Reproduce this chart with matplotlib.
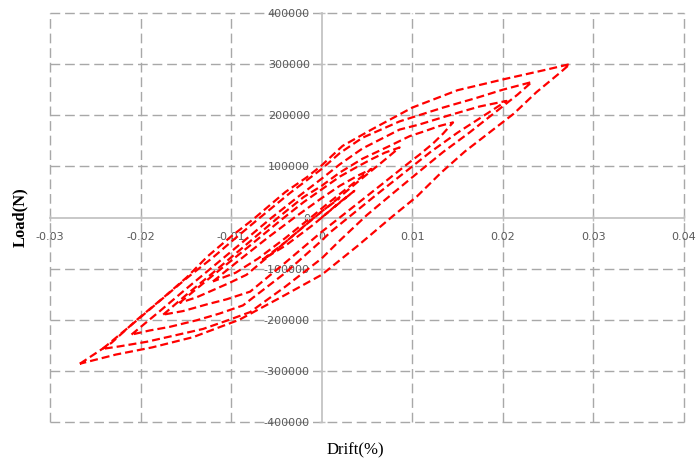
import matplotlib
matplotlib.use('Agg')
import matplotlib.pyplot as plt
from matplotlib.ticker import FuncFormatter

# Hysteresis cycles: drift (%) and load (N), one closed loop each
drift_c1 = [-0.0267, -0.0232, -0.0204, -0.0175, -0.0149, -0.0126, -0.0100, -0.0076, -0.0040, -0.0017, 0.0,
            0.0023, 0.0055, 0.0100, 0.0150, 0.0200, 0.0250, 0.0274,
            0.0263, 0.0237, 0.0212, 0.0185, 0.0158, 0.0132, 0.0105, 0.0078, 0.0040, 0.0,
            -0.0046, -0.0091, -0.0142, -0.0187, -0.0227, -0.0267]
load_c1 = [-286000, -245000, -200000, -157000, -117000, -76000, -37000, -4000, 50000, 78000, 102000,
           140000, 172000, 215000, 249000, 270000, 290000, 300000,
           283000, 245000, 203000, 166000, 129000, 88000, 41000, 2000, -55000, -112000,
           -157000, -200000, -234000, -254000, -268000, -286000]

drift_c2 = [-0.0242, -0.0210, -0.0180, -0.0150, -0.0120, -0.0095, -0.0068, -0.0035, 0.0,
            0.0020, 0.0045, 0.0086, 0.0134, 0.0171, 0.0200, 0.0232,
            0.0216, 0.0191, 0.0163, 0.0134, 0.0105, 0.0075, 0.0050, 0.0020, 0.0,
            -0.0040, -0.0079, -0.0102, -0.0131, -0.0168, -0.0193, -0.0223, -0.0242]
load_c2 = [-257000, -210000, -165000, -120000, -78000, -40000, 0, 48000, 95000,
           126000, 156000, 188000, 215000, 234000, 250000, 265000,
           240000, 205000, 166000, 128000, 86000, 42000, 5000, -45000, -80000,
           -135000, -185000, -200000, -218000, -233000, -243000, -252000, -257000]

drift_c3 = [-0.0210, -0.0180, -0.0150, -0.0120, -0.0090, -0.0055, -0.0025, 0.0,
            0.0020, 0.0045, 0.0086, 0.0108, 0.0141, 0.0174, 0.0204,
            0.0178, 0.0150, 0.0120, 0.0090, 0.0060, 0.0035, 0.0010, 0.0,
            -0.0040, -0.0087, -0.0113, -0.0138, -0.0168, -0.0190, -0.0210]
load_c3 = [-229000, -185000, -140000, -96000, -52000, 0, 42000, 76000,
           104000, 135000, 172000, 182000, 200000, 217000, 228000,
           198000, 166000, 128000, 86000, 44000, 8000, -28000, -45000,
           -108000, -172000, -188000, -201000, -214000, -221000, -229000]

drift_c4 = [-0.0175, -0.0150, -0.0120, -0.0090, -0.0048, -0.0020, 0.0,
            0.0020, 0.0045, 0.0075, 0.0097, 0.0114, 0.0130, 0.0145,
            0.0134, 0.0123, 0.0108, 0.0097, 0.0070, 0.0040, 0.0020, 0.0,
            -0.0040, -0.0079, -0.0105, -0.0127, -0.0153, -0.0175]
load_c4 = [-190000, -152000, -108000, -63000, 0, 40000, 62000,
           88000, 115000, 140000, 159000, 169000, 179000, 186000,
           164000, 145000, 123000, 108000, 70000, 28000, 0, -28000,
           -88000, -145000, -160000, -170000, -183000, -190000]

drift_c5 = [-0.0157, -0.0120, -0.0080, -0.0045, -0.0020, 0.0,
            0.0020, 0.0040, 0.0055, 0.0070, 0.0086,
            0.0065, 0.0040, 0.0015, -0.0008,
            -0.0040, -0.0083, -0.0102, -0.0120, -0.0138, -0.0157]
load_c5 = [-167000, -113000, -56000, -5000, 30000, 55000,
           80000, 100000, 114000, 127000, 137000,
           106000, 70000, 33000, 0,
           -48000, -112000, -128000, -142000, -156000, -167000]

drift_c6 = [-0.0120, -0.0090, -0.0060, -0.0030, 0.0, 0.0020, 0.0040, 0.0055,
            0.0030, 0.0005, -0.0012, -0.0040, -0.0070, -0.0095, -0.0120]
load_c6 = [-125000, -82000, -40000, 0, 38000, 62000, 82000, 95000,
           60000, 25000, 0, -40000, -80000, -108000, -125000]

drift_c7 = [0.0, 0.0018, 0.0036, 0.0015, -0.0010, -0.0040, -0.0065,
            -0.0040, -0.0015, 0.0, 0.0020]
load_c7 = [0, 27000, 52000, 22000, -15000, -55000, -82000,
           -48000, -10000, 12000, 38000]

x_ticks = [-0.03, -0.02, -0.01, 0, 0.01, 0.02, 0.03, 0.04]
y_ticks = [-400000, -300000, -200000, -100000, 0, 100000, 200000, 300000, 400000]

cycles = [(drift_c7, load_c7), (drift_c6, load_c6), (drift_c5, load_c5), (drift_c4, load_c4),
          (drift_c3, load_c3), (drift_c2, load_c2), (drift_c1, load_c1)]

fig = plt.figure(figsize=(6.99, 4.59), dpi=100)
ax = fig.add_axes([50 / 699, 1 - 422 / 459, 634 / 699, 409 / 459])

for dx, ld in cycles:
    ax.plot(dx, ld, color='#FF0000', lw=1.6, linestyle=(0, (3.6, 1.8)),
            dash_capstyle='butt', zorder=3)

ax.set_xlim(-0.03, 0.04)
ax.set_ylim(-400000, 400000)
ax.set_xticks(x_ticks)
ax.set_yticks(y_ticks)

# dashed grid, including the outer frame
grid_kw = dict(color='#A8A8A8', lw=1.0, linestyle=(0, (7, 3.5)), zorder=1)
for v in x_ticks:
    if v != 0:
        ln = ax.axvline(v, **grid_kw)
        ln.set_clip_on(False)
for v in y_ticks:
    if v != 0:
        ln = ax.axhline(v, **grid_kw)
        ln.set_clip_on(False)

# axes crossing at zero
for s in ['top', 'right']:
    ax.spines[s].set_visible(False)
ax.spines['left'].set_position('zero')
ax.spines['bottom'].set_position('zero')
for s in ['left', 'bottom']:
    ax.spines[s].set_color('#BFBFBF')
    ax.spines[s].set_linewidth(1.2)
    ax.spines[s].set_zorder(2)

ax.xaxis.set_major_formatter(FuncFormatter(lambda v, p: '0' if abs(v) < 1e-9 else f'{v:.2f}'))
ax.yaxis.set_major_formatter(FuncFormatter(lambda v, p: f'{int(round(v))}'))
ax.tick_params(axis='both', direction='inout', length=5, width=1, color='#BFBFBF',
               labelcolor='#595959', labelsize=8)
ax.tick_params(axis='x', pad=8)
ax.tick_params(axis='y', pad=6)
for lbl in ax.get_xticklabels() + ax.get_yticklabels():
    lbl.set_fontfamily('DejaVu Sans')

fig.text(20 / 699, 1 - 217 / 459, 'Load(N)', rotation=90, ha='center', va='center',
         fontfamily='Liberation Serif', fontweight='bold', fontsize=12)
fig.text(355 / 699, 1 - 450 / 459, 'Drift(%)', ha='center', va='center',
         fontfamily='Liberation Serif', fontsize=12)

fig.savefig('out.png', dpi=100)
